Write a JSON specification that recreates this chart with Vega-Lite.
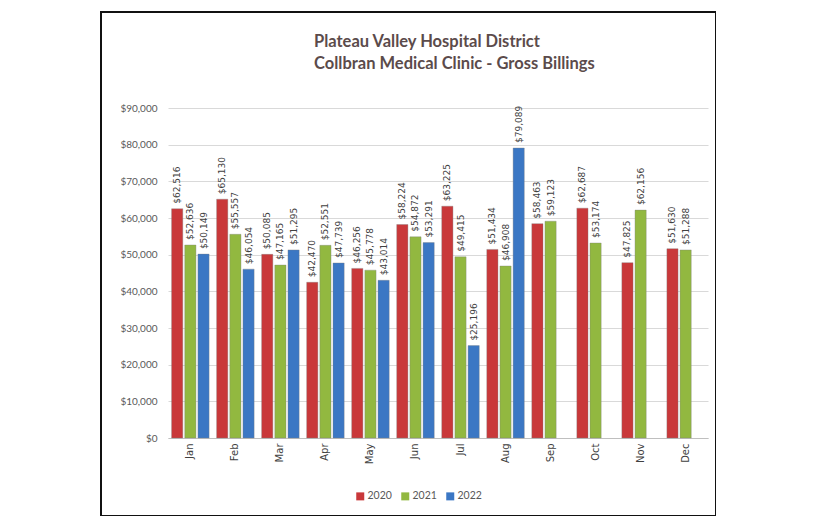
{
  "$schema": "https://vega.github.io/schema/vega-lite/v6.json",
  "width": 615,
  "height": 504,
  "autosize": {"type": "none"},
  "padding": {"left": 101, "top": 12, "right": 0, "bottom": 0},
  "background": "white",
  "title": {
    "text": ["Plateau Valley Hospital District", "Collbran Medical Clinic  - Gross Billings"],
    "anchor": "start",
    "frame": "group",
    "align": "left",
    "baseline": "top",
    "dx": 213,
    "dy": 64,
    "font": "Lato",
    "fontSize": 16.5,
    "fontWeight": "bold",
    "color": "#5b4b4b",
    "lineHeight": 22
  },
  "data": {
    "values": [
      {"month": "Jan", "year": "2020", "amount": 62516},
      {"month": "Feb", "year": "2020", "amount": 65130},
      {"month": "Mar", "year": "2020", "amount": 50085},
      {"month": "Apr", "year": "2020", "amount": 42470},
      {"month": "May", "year": "2020", "amount": 46256},
      {"month": "Jun", "year": "2020", "amount": 58224},
      {"month": "Jul", "year": "2020", "amount": 63225},
      {"month": "Aug", "year": "2020", "amount": 51434},
      {"month": "Sep", "year": "2020", "amount": 58463},
      {"month": "Oct", "year": "2020", "amount": 62687},
      {"month": "Nov", "year": "2020", "amount": 47825},
      {"month": "Dec", "year": "2020", "amount": 51630},
      {"month": "Jan", "year": "2021", "amount": 52636},
      {"month": "Feb", "year": "2021", "amount": 55557},
      {"month": "Mar", "year": "2021", "amount": 47165},
      {"month": "Apr", "year": "2021", "amount": 52551},
      {"month": "May", "year": "2021", "amount": 45778},
      {"month": "Jun", "year": "2021", "amount": 54872},
      {"month": "Jul", "year": "2021", "amount": 49415},
      {"month": "Aug", "year": "2021", "amount": 46908},
      {"month": "Sep", "year": "2021", "amount": 59123},
      {"month": "Oct", "year": "2021", "amount": 53174},
      {"month": "Nov", "year": "2021", "amount": 62156},
      {"month": "Dec", "year": "2021", "amount": 51288},
      {"month": "Jan", "year": "2022", "amount": 50149},
      {"month": "Feb", "year": "2022", "amount": 46054},
      {"month": "Mar", "year": "2022", "amount": 51295},
      {"month": "Apr", "year": "2022", "amount": 47739},
      {"month": "May", "year": "2022", "amount": 43014},
      {"month": "Jun", "year": "2022", "amount": 53291},
      {"month": "Jul", "year": "2022", "amount": 25196},
      {"month": "Aug", "year": "2022", "amount": 79089}
    ]
  },
  "encoding": {
    "x": {
      "field": "month",
      "type": "nominal",
      "sort": ["Jan", "Feb", "Mar", "Apr", "May", "Jun", "Jul", "Aug", "Sep", "Oct", "Nov", "Dec"],
      "scale": {"range": [67, 607], "paddingInner": 0.167, "paddingOuter": 0.08},
      "axis": {
        "title": null,
        "offset": -78,
        "labelAngle": 270,
        "labelFont": "DejaVu Sans",
        "labelFontSize": 10,
        "labelColor": "#404040",
        "labelPadding": 5,
        "ticks": false,
        "domainColor": "#bfbfbf",
        "grid": false
      }
    },
    "xOffset": {
      "field": "year",
      "type": "nominal",
      "scale": {"domain": ["2020", "2021", "2022"], "paddingInner": 0.15, "paddingOuter": 0}
    },
    "y": {
      "field": "amount",
      "type": "quantitative",
      "scale": {"domain": [0, 90000], "range": [426, 96], "nice": false},
      "axis": {
        "title": null,
        "offset": -67,
        "values": [0, 10000, 20000, 30000, 40000, 50000, 60000, 70000, 80000, 90000],
        "format": "$,.0f",
        "labelFont": "Lato",
        "labelFontSize": 10,
        "labelColor": "#595959",
        "labelPadding": 11,
        "ticks": false,
        "domain": false,
        "grid": true,
        "gridColor": "#d9d9d9",
        "gridWidth": 1
      }
    }
  },
  "layer": [
    {
      "mark": {"type": "bar", "stroke": "#7f7f7f", "strokeWidth": 0.6, "strokeOpacity": 0.6},
      "encoding": {
        "color": {
          "field": "year",
          "type": "nominal",
          "scale": {"domain": ["2020", "2021", "2022"], "range": ["#c9383a", "#92b840", "#3b77c4"]},
          "legend": {
            "title": null,
            "orient": "none",
            "direction": "horizontal",
            "legendX": 254,
            "legendY": 479,
            "symbolType": "square",
            "symbolSize": 64,
            "symbolStrokeWidth": 0,
            "labelFont": "Lato",
            "labelFontSize": 10.5,
            "labelColor": "#595959",
            "labelOffset": 2,
            "columnPadding": 8,
            "padding": 0
          }
        }
      }
    },
    {
      "mark": {"type": "text", "angle": 270, "align": "left", "baseline": "middle", "dx": 5, "font": "DejaVu Sans", "fontSize": 9, "color": "#404040"},
      "encoding": {
        "text": {"field": "amount", "type": "quantitative", "format": "$,.0f"}
      }
    }
  ],
  "config": {
    "view": {"stroke": "#111111", "strokeWidth": 2, "fill": "white"}
  }
}
